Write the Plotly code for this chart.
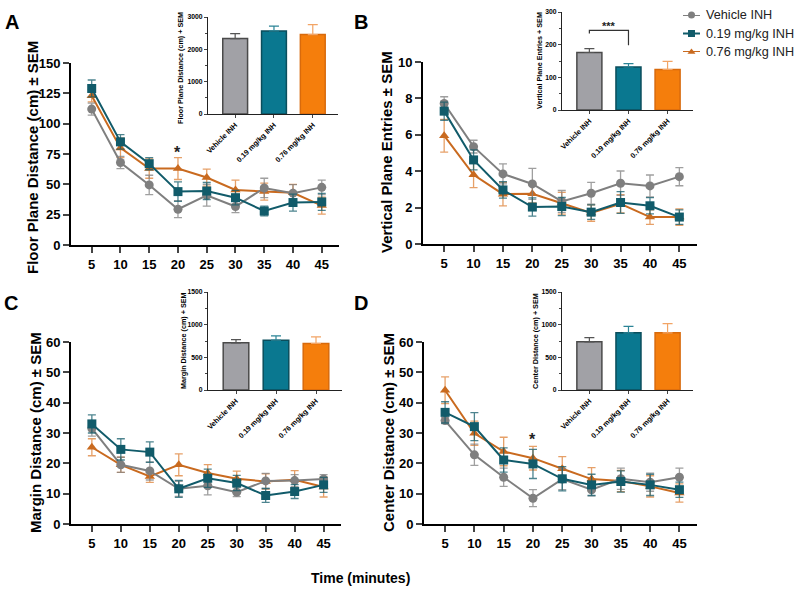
import plotly.graph_objects as go

# ---------------- data ----------------
time_min = [5, 10, 15, 20, 25, 30, 35, 40, 45]
groups = ["Vehicle INH", "0.19 mg/kg INH", "0.76 mg/kg INH"]

# Panel A: Floor plane distance (cm)
A_veh = [112, 68, 49.5, 29.5, 41, 31.7, 47, 42.7, 47.5]
A_veh_sem = [5, 5, 8, 7, 9, 5, 8, 7, 6]
A_low = [129, 85, 67, 44, 44.5, 39, 28, 35, 35.5]
A_low_sem = [7, 6, 5, 8, 7, 6, 4, 7, 7]
A_high = [123, 80, 63, 63, 55.6, 45.4, 44, 43, 32.5]
A_high_sem = [5, 8, 8, 9, 7, 8, 7, 7, 7]
A_tot = [2334, 2570, 2457]
A_tot_sem = [150, 150, 305]

# Panel B: Vertical plane entries
B_veh = [7.72, 5.35, 3.85, 3.30, 2.34, 2.79, 3.34, 3.19, 3.70]
B_veh_sem = [0.37, 0.35, 0.55, 0.85, 0.6, 0.6, 0.67, 0.6, 0.5]
B_low = [7.30, 4.62, 2.97, 2.03, 2.06, 1.75, 2.28, 2.10, 1.48]
B_low_sem = [0.5, 0.55, 0.45, 0.5, 0.5, 0.4, 0.6, 0.45, 0.4]
B_high = [5.95, 3.80, 2.74, 2.76, 2.24, 1.70, 2.21, 1.48, 1.48]
B_high_sem = [0.9, 0.7, 0.65, 0.5, 0.6, 0.45, 0.5, 0.4, 0.45]
B_tot = [176, 132, 124]
B_tot_sem = [12, 10, 25]

# Panel C: Margin distance (cm)
C_veh = [31.5, 19.5, 17.5, 11.6, 12.6, 10.5, 14.2, 14.3, 14.8]
C_veh_sem = [2.5, 2.5, 3, 2.5, 3, 1.5, 2.5, 2, 1.5]
C_low = [33, 24.6, 23.7, 11.6, 15.1, 13.5, 9.4, 10.7, 12.9]
C_low_sem = [3, 3.5, 3.4, 2.8, 3, 2.5, 2.3, 2.3, 2.5]
C_high = [25.3, 19.5, 15.7, 19.5, 16.8, 14.9, 14.0, 14.6, 12.2]
C_high_sem = [2.8, 2.5, 2, 3.6, 2.8, 2.5, 2.5, 3, 3.3]
C_tot = [722, 763, 712]
C_tot_sem = [50, 65, 100]

# Panel D: Center distance (cm)
D_veh = [34.1, 22.8, 15.4, 8.5, 14.8, 11.3, 14.9, 13.8, 15.4]
D_veh_sem = [1, 3.5, 3, 2.8, 3.5, 2, 3.5, 3, 3]
D_low = [36.8, 32.1, 21.1, 19.8, 14.9, 12.9, 14.0, 12.9, 11.3]
D_low_sem = [3.5, 4.6, 4, 4.8, 4, 3.5, 3.5, 3.5, 2.5]
D_high = [44.1, 29.9, 23.9, 21.7, 18.2, 14.8, 14.2, 12.4, 10.2]
D_high_sem = [4.4, 4, 4.7, 3.9, 4, 3.8, 3.5, 3.5, 3]
D_tot = [737, 875, 875]
D_tot_sem = [66, 100, 140]

# ---------------- styling ----------------
W, H = 798, 590
FONT = "Liberation Sans, Arial, Helvetica, sans-serif"
line_col = ["#7f7f7f", "#115b6a", "#c96a1f"]
err_col = ["rgba(127,127,127,0.75)", "rgba(17,91,106,0.75)", "rgba(220,120,40,0.7)"]
symbols = ["circle", "square", "triangle-up"]
msize = [9, 9, 9]
bar_fill = ["#a1a1a6", "#0a7890", "#f57e0c"]
bar_line = ["#4a4a4a", "#0b4e5c", "#d86a0c"]
bar_err = ["#555555", "#2b8496", "#f2a465"]


def fx(p):
    return p / W


def fy(p):
    return 1 - p / H


fig = go.Figure()
layout = dict(
    template="none",
    width=W, height=H, margin=dict(l=0, r=0, t=0, b=0, pad=0), autosize=False,
    paper_bgcolor="white", plot_bgcolor="rgba(0,0,0,0)",
    showlegend=False, font=dict(family=FONT, color="black"),
    hovermode=False,
)

main_panels = [
    ("A", 1, (71, 339), (245, 63), [0, 150], 25,
     [(A_veh, A_veh_sem), (A_low, A_low_sem), (A_high, A_high_sem)]),
    ("B", 2, (423, 697), (244, 62), [0, 10], 2,
     [(B_veh, B_veh_sem), (B_low, B_low_sem), (B_high, B_high_sem)]),
    ("C", 3, (71, 341), (524, 342), [0, 60], 10,
     [(C_veh, C_veh_sem), (C_low, C_low_sem), (C_high, C_high_sem)]),
    ("D", 4, (424, 697), (524, 342), [0, 60], 10,
     [(D_veh, D_veh_sem), (D_low, D_low_sem), (D_high, D_high_sem)]),
]

draw_order = [2, 0, 1]
for name, k, xpx, ypx, yr, dt, series in main_panels:
    for g in draw_order:
        vals, sem = series[g]
        fig.add_trace(go.Scatter(
            x=time_min, y=vals, mode="lines+markers",
            xaxis=f"x{k}", yaxis=f"y{k}", cliponaxis=False,
            line=dict(color=line_col[g], width=2),
            marker=dict(symbol=symbols[g], size=msize[g], color=line_col[g]),
            error_y=dict(type="data", array=sem, color=err_col[g],
                         thickness=1.3, width=4),
        ))
    layout[f"xaxis{k}"] = dict(
        domain=[fx(xpx[0]), fx(xpx[1])], range=[1.4, 48], anchor=f"y{k}",
        tickmode="array", tickvals=time_min, ticks="outside", ticklen=6,
        tickwidth=2, showline=True, linewidth=2, linecolor="black",
        showgrid=False, zeroline=False, automargin=False,
        tickfont=dict(size=13, family=FONT, weight="bold"),
    )
    layout[f"yaxis{k}"] = dict(
        domain=[fy(ypx[0]), fy(ypx[1])], range=yr, anchor=f"x{k}",
        dtick=dt, ticks="outside", ticklen=6, tickwidth=2,
        showline=True, linewidth=2, linecolor="black",
        showgrid=False, zeroline=False, automargin=False,
        tickfont=dict(size=13, family=FONT, weight="bold"),
    )

insets = [
    (5, (208, 338), (114, 17), [0, 3000], 1000, A_tot, A_tot_sem),
    (6, (562, 693), (110, 12), [0, 300], 100, B_tot, B_tot_sem),
    (7, (208, 342), (390, 292), [0, 1500], 500, C_tot, C_tot_sem),
    (8, (562, 693), (390, 292), [0, 1500], 500, D_tot, D_tot_sem),
]
for k, xpx, ypx, yr, dt, tot, sem in insets:
    for g in range(3):
        fig.add_trace(go.Bar(
            x=[groups[g]], y=[tot[g]], width=0.64,
            xaxis=f"x{k}", yaxis=f"y{k}",
            marker=dict(color=bar_fill[g], line=dict(color=bar_line[g], width=1.5)),
            error_y=dict(type="data", array=[sem[g]], arrayminus=[0], symmetric=False,
                         color=bar_err[g], thickness=1.2, width=5),
        ))
    layout[f"xaxis{k}"] = dict(
        domain=[fx(xpx[0]), fx(xpx[1])], range=[-0.7, 2.65], anchor=f"y{k}",
        type="category", categoryorder="array", categoryarray=groups,
        tickangle=-45, ticks="outside", ticklen=3, tickwidth=1,
        showline=True, linewidth=1, linecolor="#222", showgrid=False,
        zeroline=False, automargin=False,
        tickfont=dict(size=7.3, family=FONT, weight="bold"),
    )
    layout[f"yaxis{k}"] = dict(
        domain=[fy(ypx[0]), fy(ypx[1])], range=yr, anchor=f"x{k}",
        dtick=dt, ticks="outside", ticklen=3, tickwidth=1,
        minor=dict(dtick=dt / 2, ticks="outside", ticklen=2, tickwidth=1, showgrid=False),
        showline=True, linewidth=1, linecolor="#222", showgrid=False, zeroline=False,
        automargin=False,
        tickfont=dict(size=6.8, family=FONT, weight="bold"),
    )
layout["barmode"] = "overlay"

# ---------------- manual legend ----------------
leg_rows = [1, 0.5, 0]
leg_px = [15, 33.5, 52]
for g in range(3):
    fig.add_trace(go.Scatter(
        x=[0, 0.5, 1], y=[leg_rows[g]] * 3, mode="lines",
        xaxis="x9", yaxis="y9", cliponaxis=False,
        line=dict(color=line_col[g], width=2),
    ))
    fig.add_trace(go.Scatter(
        x=[0.5], y=[leg_rows[g]], mode="markers",
        xaxis="x9", yaxis="y9", cliponaxis=False,
        marker=dict(symbol=symbols[g], size=7, color=line_col[g]),
    ))
layout["xaxis9"] = dict(domain=[fx(683), fx(700)], range=[0, 1], visible=False,
                        anchor="y9", automargin=False)
layout["yaxis9"] = dict(domain=[fy(52), fy(15)], range=[0, 1], visible=False,
                        anchor="x9", automargin=False)

annotations = []
for g in range(3):
    annotations.append(dict(
        xref="paper", yref="paper", x=fx(704), y=fy(leg_px[g]), text=groups[g],
        showarrow=False, xanchor="left", yanchor="middle",
        font=dict(size=12.7, family=FONT, color="#222"),
    ))

# panel letters
for lab, px_, py_ in [("A", 12, 22), ("B", 361, 22), ("C", 11, 303), ("D", 361, 303)]:
    annotations.append(dict(
        xref="paper", yref="paper", x=fx(px_), y=fy(py_), text=f"<b>{lab}</b>",
        showarrow=False, xanchor="center", yanchor="middle",
        font=dict(size=20, family=FONT, color="black"),
    ))

# y titles of main panels
for txt, px_, py_ in [("Floor Plane Distance (cm) ± SEM", 32, 158),
                      ("Vertical Plane Entries ± SEM", 387, 152),
                      ("Margin Distance (cm) ± SEM", 35, 433),
                      ("Center Distance (cm) ± SEM", 388, 433)]:
    annotations.append(dict(
        xref="paper", yref="paper", x=fx(px_), y=fy(py_), text=f"<b>{txt}</b>",
        textangle=-90, showarrow=False, xanchor="center", yanchor="middle",
        font=dict(size=15, family=FONT, color="black"),
    ))

# y titles of insets
for txt, px_, py_ in [("Floor Plane Distance (cm) + SEM", 181, 68),
                      ("Vertical Plane Entries + SEM", 539, 61),
                      ("Margin Distance (cm) + SEM", 183, 341),
                      ("Center Distance (cm) + SEM", 535, 341)]:
    annotations.append(dict(
        xref="paper", yref="paper", x=fx(px_), y=fy(py_), text=f"<b>{txt}</b>",
        textangle=-90, showarrow=False, xanchor="center", yanchor="middle",
        font=dict(size=7.2, family=FONT, color="black"),
    ))

# common x title
annotations.append(dict(
    xref="paper", yref="paper", x=fx(360), y=fy(578), text="<b>Time (minutes)</b>",
    showarrow=False, xanchor="center", yanchor="middle",
    font=dict(size=14, family=FONT, color="black"),
))

# significance stars
idx20 = time_min.index(20)
topA = max(s[0][idx20] + s[1][idx20] for s in main_panels[0][6])
annotations.append(dict(xref="x1", yref="y1", x=20, y=topA + 4, text="<b>*</b>",
                        showarrow=False, font=dict(size=16, family=FONT, color="#222")))
topD = max(s[0][idx20] + s[1][idx20] for s in main_panels[3][6])
annotations.append(dict(xref="x4", yref="y4", x=20, y=topD + 2.2, text="<b>*</b>",
                        showarrow=False, font=dict(size=16, family=FONT, color="#222")))

# bracket in inset B
b_left = B_tot[0] + B_tot_sem[0] + 46
b_right = B_tot[1] + B_tot_sem[1] + 56
b_top = max(b_left, b_right) + 10
shapes = [dict(type="path", xref="x6", yref="y6",
               path=f"M 0,{b_left} L 0,{b_top} L 1,{b_top} L 1,{b_right}",
               line=dict(color="#333", width=1.2))]
annotations.append(dict(xref="x6", yref="y6", x=0.5, y=b_top + 14, text="<b>***</b>",
                        showarrow=False, font=dict(size=11, family=FONT, color="#222")))

layout["annotations"] = annotations
layout["shapes"] = shapes
fig.update_layout(**layout)
fig.write_html(
    "out.html",
    config={"displayModeBar": False, "staticPlot": True},
    post_script="document.body.style.margin='0';document.body.style.overflow='hidden';",
)
